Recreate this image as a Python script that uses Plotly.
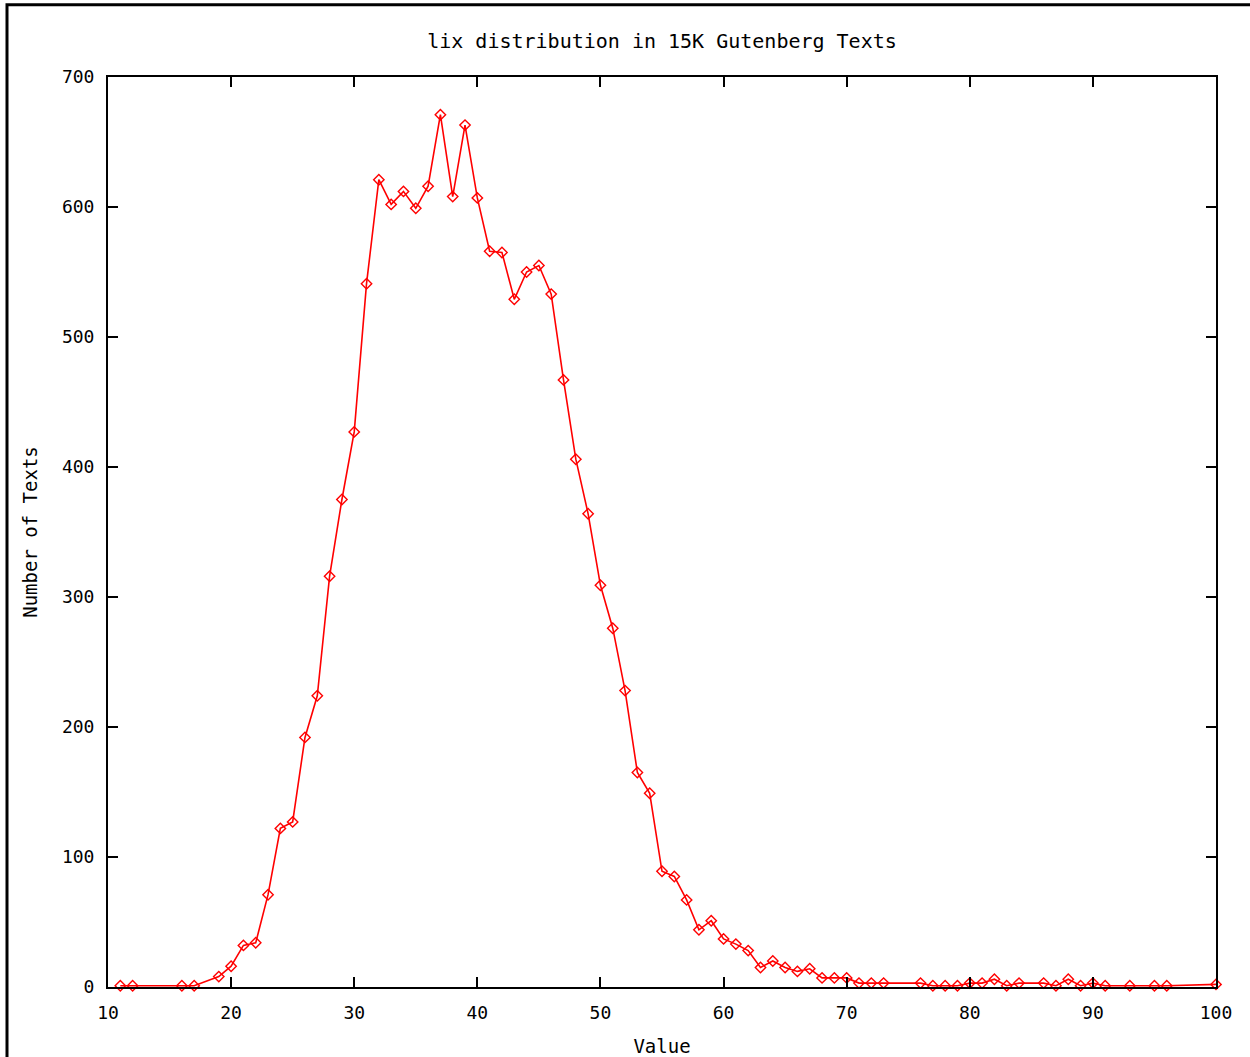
import plotly.graph_objects as go

# LIX value bins and number of texts per bin
lix_values = [11, 12, 16, 17, 19, 20, 21, 22, 23, 24, 25, 26, 27, 28, 29, 30,
              31, 32, 33, 34, 35, 36, 37, 38, 39, 40, 41, 42, 43, 44, 45, 46,
              47, 48, 49, 50, 51, 52, 53, 54, 55, 56, 57, 58, 59, 60, 61, 62,
              63, 64, 65, 66, 67, 68, 69, 70, 71, 72, 73, 76, 77, 78, 79, 80,
              81, 82, 83, 84, 86, 87, 88, 89, 90, 91, 93, 95, 96, 100]
text_counts = [1, 1, 1, 1, 8, 16, 32, 34, 71, 122, 127, 192, 224, 316, 375, 427,
               541, 621, 602, 612, 599, 616, 671, 608, 663, 607, 566, 565, 529, 550, 555, 533,
               467, 406, 364, 309, 276, 228, 165, 149, 89, 85, 67, 44, 51, 37, 33, 28,
               15, 20, 15, 12, 14, 7, 7, 7, 3, 3, 3, 3, 1, 1, 1, 3,
               3, 6, 1, 3, 3, 1, 6, 1, 3, 1, 1, 1, 1, 2]

x_ticks = [10, 20, 30, 40, 50, 60, 70, 80, 90, 100]
y_ticks = [0, 100, 200, 300, 400, 500, 600, 700]

title_text = "lix distribution in 15K Gutenberg Texts"
x_title = "Value"
y_title = "Number of Texts"

FONT = "DejaVu Sans Mono"

fig = go.Figure()
fig.add_trace(go.Scatter(
    x=lix_values, y=text_counts, mode="lines+markers",
    line=dict(color="#ff0000", width=1.6),
    marker=dict(symbol="diamond-open", size=8, color="#ff0000", line=dict(width=1.4)),
    cliponaxis=False, showlegend=False, hoverinfo="skip",
))

axis_common = dict(
    showgrid=False, zeroline=False, showline=True, linecolor="black", linewidth=2,
    mirror="allticks", ticks="inside", ticklen=10, tickwidth=1.5, tickcolor="black",
    tickfont=dict(family=FONT, size=18, color="black"), automargin=False,
)

fig.update_layout(
    width=1250, height=1057,
    margin=dict(l=108, r=34, t=77, b=70),
    paper_bgcolor="white", plot_bgcolor="white",
    title=dict(text=title_text, x=0.5, xref="paper", xanchor="center",
               y=1 - 41 / 1057, yref="container", yanchor="middle",
               font=dict(family=FONT, size=20, color="black")),
    xaxis=dict(range=[10, 100], tickvals=x_ticks, ticktext=[str(v) for v in x_ticks],
               title=dict(text=x_title, standoff=18, font=dict(family=FONT, size=19, color="black")),
               ticklabelstandoff=8, **axis_common),
    yaxis=dict(range=[0, 700], tickvals=y_ticks, ticktext=[str(v) for v in y_ticks],
               title=dict(text=y_title, standoff=19, font=dict(family=FONT, size=19, color="black")),
               ticklabelstandoff=8, **axis_common),
    shapes=[dict(type="rect", xref="paper", yref="paper",
                 x0=(7 - 108) / 1108, x1=1.3, y0=-0.3, y1=(986.7 - 5) / 909.4,
                 line=dict(color="black", width=3), fillcolor="rgba(0,0,0,0)", layer="above")],
)

fig.write_html("out.html")
